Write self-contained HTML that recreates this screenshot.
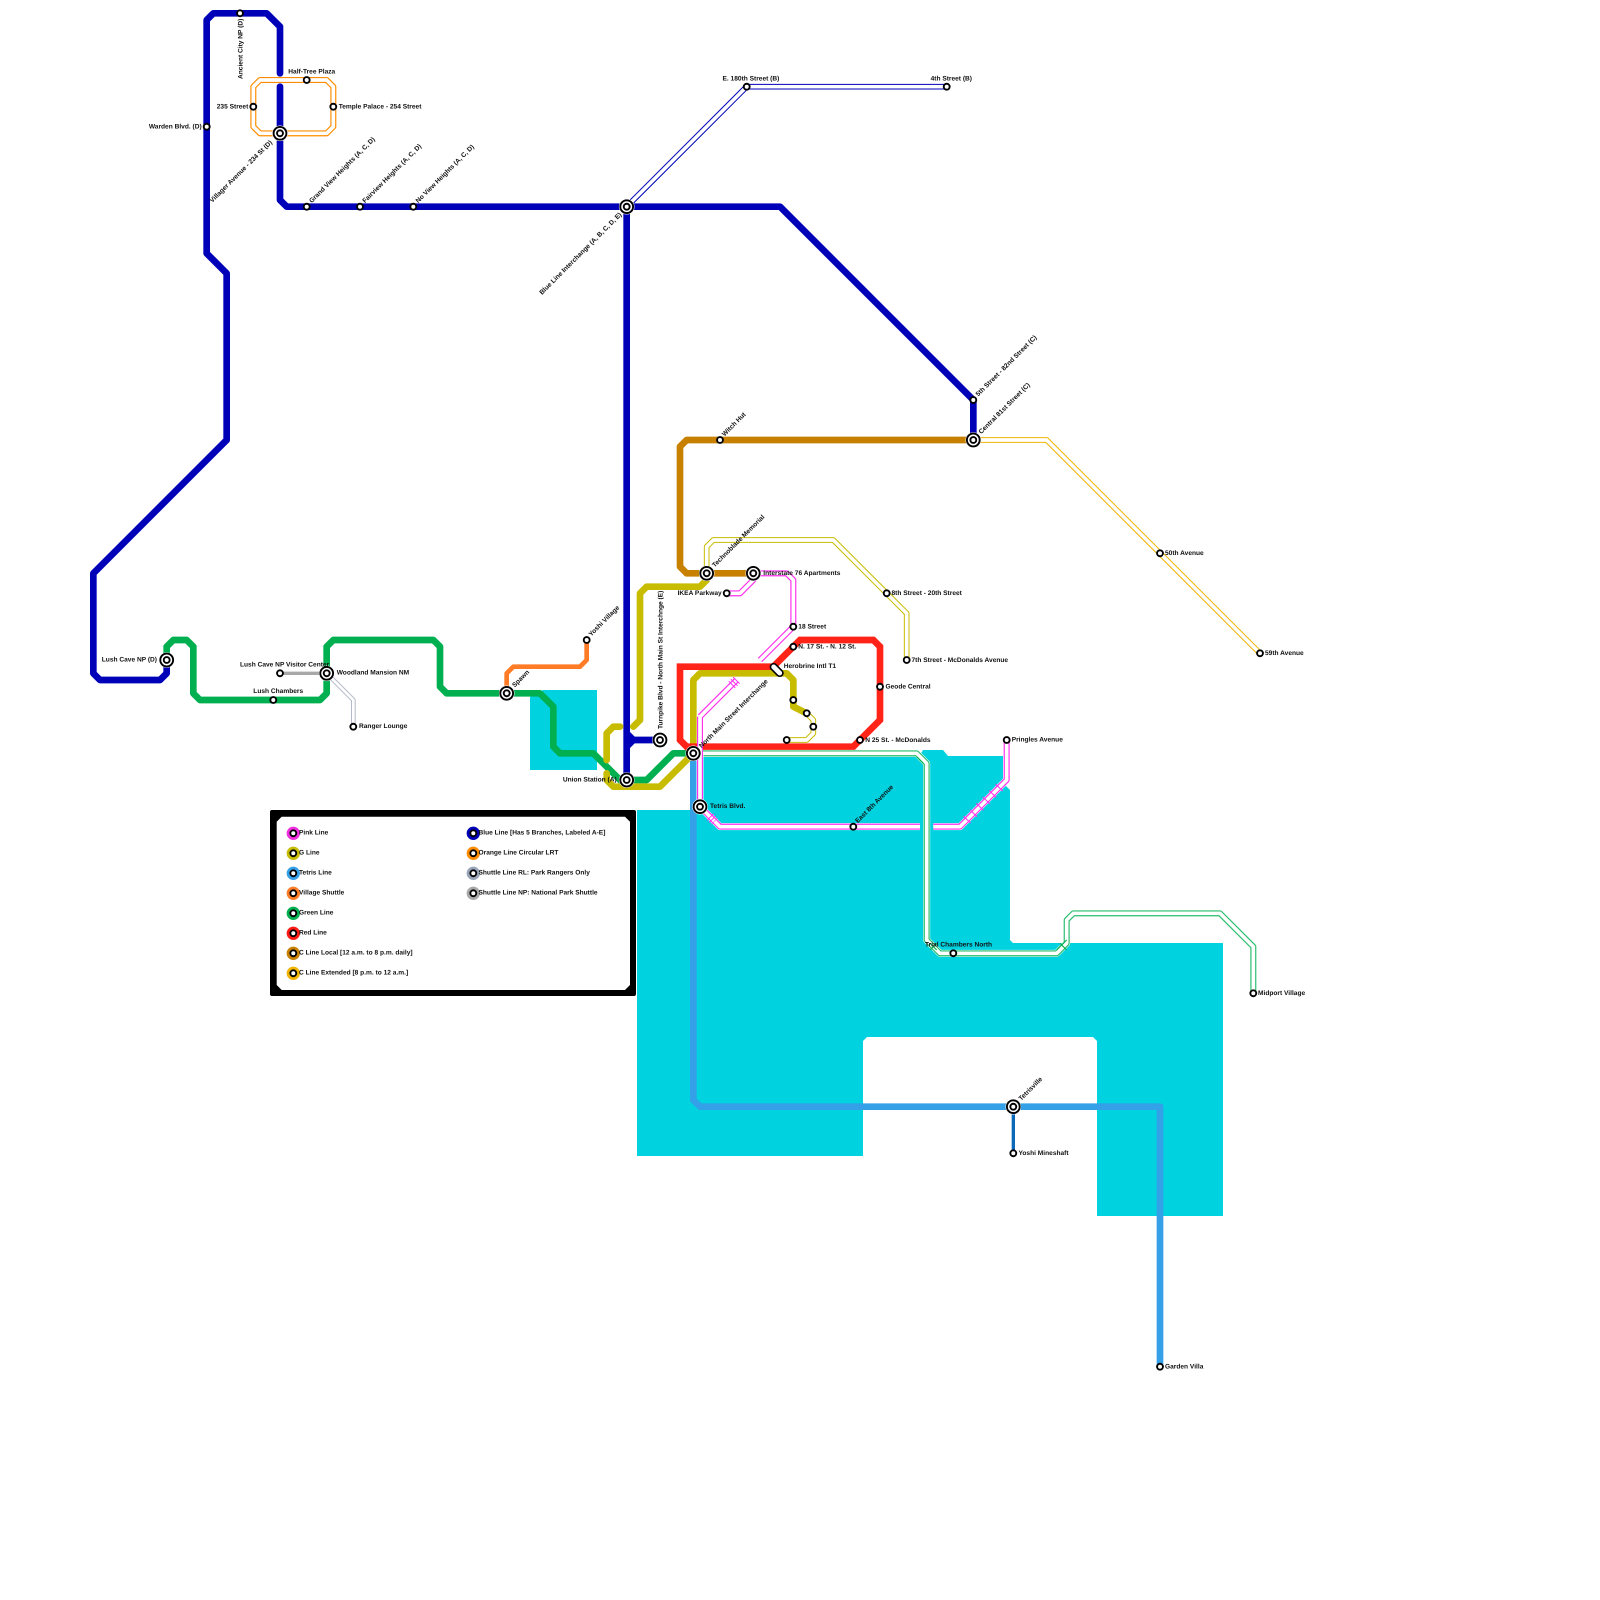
<!DOCTYPE html>
<html>
<head>
<meta charset="utf-8">
<title>Transit Map</title>
<style>
html,body{margin:0;padding:0;background:#fff}
svg{display:block}
text{font-family:"Liberation Sans",sans-serif;font-weight:bold;font-size:6.6px;fill:#111;text-rendering:geometricPrecision}
.l{fill:none;stroke-linejoin:round;stroke-linecap:butt}
</style>
</head>
<body>
<svg xmlns="http://www.w3.org/2000/svg" width="1600" height="1600" viewBox="0 0 1600 1600">
<defs>
<g id="s"><circle r="2.95" fill="#fff" stroke="#000" stroke-width="1.9"/></g>
<g id="h"><circle r="7.8" fill="#fff"/><circle r="6.4" fill="#fff" stroke="#000" stroke-width="1.9"/><circle r="2.95" fill="#fff" stroke="#000" stroke-width="1.9"/></g>
</defs>
<rect width="1600" height="1600" fill="#fff"/>

<!-- water -->
<polygon fill="#00d2e0" points="543,690 597,690 597,770 530,770 530,697"/>
<polygon fill="#00d2e0" points="637,810 696,810 696,765 703,757 920,755 923,750 943,750 948,756 1003,756 1003,783 1010,790 1010,940 1013,943 1223,943 1223,1216 1097,1216 1097,1041 1093,1037 867,1037 863,1041 863,1156 637,1156"/>

<!-- legend -->
<rect x="270" y="810" width="366" height="186" rx="2" fill="#000"/>
<polygon fill="#fff" points="281.7,816.7 625,816.7 630,821.7 630,985 625,990 281.7,990 276.7,985 276.7,821.7"/>
<g>
<circle cx="293.3" cy="833.3" r="6.67" fill="#f030e0"/><circle cx="293.3" cy="853.3" r="6.67" fill="#c8bc00"/><circle cx="293.3" cy="873.3" r="6.67" fill="#34a0e8"/><circle cx="293.3" cy="893.3" r="6.67" fill="#ff7b25"/><circle cx="293.3" cy="913.3" r="6.67" fill="#00b050"/><circle cx="293.3" cy="933.3" r="6.67" fill="#ff1a14"/><circle cx="293.3" cy="953.3" r="6.67" fill="#c88000"/><circle cx="293.3" cy="973.3" r="6.67" fill="#f0b400"/>
<circle cx="473.3" cy="833.3" r="6.67" fill="#0000b8"/><circle cx="473.3" cy="853.3" r="6.67" fill="#ff8c00"/><circle cx="473.3" cy="873.3" r="6.67" fill="#98a4b8"/><circle cx="473.3" cy="893.3" r="6.67" fill="#a8a8a8"/>
<use href="#s" x="293.3" y="833.3"/><use href="#s" x="293.3" y="853.3"/><use href="#s" x="293.3" y="873.3"/><use href="#s" x="293.3" y="893.3"/><use href="#s" x="293.3" y="913.3"/><use href="#s" x="293.3" y="933.3"/><use href="#s" x="293.3" y="953.3"/><use href="#s" x="293.3" y="973.3"/>
<use href="#s" x="473.3" y="833.3"/><use href="#s" x="473.3" y="853.3"/><use href="#s" x="473.3" y="873.3"/><use href="#s" x="473.3" y="893.3"/>
<text x="299" y="834.7">Pink Line</text>
<text x="299" y="854.7">G Line</text>
<text x="299" y="874.7">Tetris Line</text>
<text x="299" y="894.7">Village Shuttle</text>
<text x="299" y="914.7">Green Line</text>
<text x="299" y="934.7">Red Line</text>
<text x="299" y="954.7">C Line Local [12 a.m. to 8 p.m. daily]</text>
<text x="299" y="974.7">C Line Extended [8 p.m. to 12 a.m.]</text>
<text x="478.5" y="834.7">Blue Line [Has 5 Branches, Labeled A-E]</text>
<text x="478.5" y="854.7">Orange Line Circular LRT</text>
<text x="478.5" y="874.7">Shuttle Line RL: Park Rangers Only</text>
<text x="478.5" y="894.7">Shuttle Line NP: National Park Shuttle</text>
</g>

<!-- lines (grid units) -->
<g transform="scale(6.66667)">
<!-- thin gold -->
<path class="l" stroke="#f0b400" stroke-width=".85" d="M146 66H157L189 98"/>
<path class="l" stroke="#fff" stroke-width=".55" d="M146 66H157L189 98"/>
<!-- thin blue -->
<path class="l" stroke="#0000b8" stroke-width=".85" d="M94 31L112 13H142"/>
<path class="l" stroke="#fff" stroke-width=".55" d="M94 31L112 13H142"/>
<!-- thin G -->
<path class="l" stroke="#c8bc00" stroke-width=".85" d="M106 86V82L107 81H125L136 92V99"/>
<path class="l" stroke="#fff" stroke-width=".55" d="M106 86V82L107 81H125L136 92V99"/>
<path class="l" stroke="#c8bc00" stroke-width=".85" d="M121 107L122 108V110L121 111H118"/>
<path class="l" stroke="#fff" stroke-width=".55" d="M121 107L122 108V110L121 111H118"/>
<!-- orange circular -->
<path class="l" stroke="#ff8c00" stroke-width=".9" d="M39 12H49L50 13V19L49 20H39L38 19V13Z"/>
<path class="l" stroke="#fff" stroke-width=".55" d="M39 12H49L50 13V19L49 20H39L38 19V13Z"/>
<!-- shuttles -->
<path class="l" stroke="#a8a8a8" stroke-width=".5" d="M42 101H49"/>
<path class="l" stroke="#b4bac8" stroke-width=".7" d="M49 101L53 105V109"/>
<path class="l" stroke="#fff" stroke-width=".4" d="M49 101L53 105V109"/>
<!-- village shuttle -->
<path class="l" stroke="#ff7b25" stroke-width=".7" d="M76 104V101L77 100H87L88 99V96"/>
<!-- tetris -->
<path class="l" stroke="#34a0e8" stroke-width="1" d="M104 113V165L105 166H174V205"/>
<path class="l" stroke="#0c68b8" stroke-width=".5" d="M152 166V173"/>
<!-- main blue -->
<path class="l" stroke="#0000b8" stroke-width="1" d="M25 99V101L24 102H15L14 101V86L34 66V41L31 38V3L32 2H40L42 4V11" style="stroke-linecap:round"/>
<path class="l" stroke="#0000b8" stroke-width="1" d="M42 13V30L43 31H117L146 60V66" style="stroke-linecap:round"/>
<path class="l" stroke="#0000b8" stroke-width="1" d="M94 31V117"/>
<path class="l" stroke="#0000b8" stroke-width="1" d="M94 110L95 111L94 112M95 111H99"/>
<!-- green -->
<path class="l" stroke="#00b050" stroke-width="1" d="M25 99V97L26 96H28L29 97V104L30 105H48L49 104V97L50 96H65L66 97V103L67 104H81L83 106V112L84 113H89L94 118L94 117H97L101 113H104"/>
<!-- brown -->
<path class="l" stroke="#c88000" stroke-width="1" d="M146 66H103L102 67V85L103 86H113"/>
<!-- G line thick -->
<path class="l" stroke="#c8bc00" stroke-width="1" d="M106 86V87L105 88H97L96 89V108L95 109" style="stroke-linecap:round"/>
<path class="l" stroke="#c8bc00" stroke-width="1" d="M93 109H92L91 110V114" style="stroke-linecap:round"/>
<path class="l" stroke="#c8bc00" stroke-width="1" d="M91 116V117L92 118H99L104 113" style="stroke-linecap:round"/>
<path class="l" stroke="#c8bc00" stroke-width="1" d="M104 113V102L105 101H118L119 102V106L121 107"/>
<!-- red -->
<path class="l" stroke="#ff2318" stroke-width="1" d="M104 113L103 112H128L132 108V97L131 96H120L116 100H102V111L103 112" style="stroke-linejoin:miter"/>
<!-- thin green -->
<path class="l" stroke="#fff" stroke-width="1.05" d="M104 113H137.5L139 114.5V141L141 143H158.5L160 141.5V138L161 137H183L188 142V149"/>
<path class="l" stroke="#00b050" stroke-width=".9" d="M104 113H137.5L139 114.5V141L141 143H158.5L160 141.5V138L161 137H183L188 142V149" opacity=".85"/>
<path class="l" stroke="#fff" stroke-width=".55" d="M104 113H137.5L139 114.5V141L141 143H158.5L160 141.5V138L161 137H183L188 142V149"/>
<path class="l" stroke="#00b050" stroke-width=".18" d="M139.5 141.5L140.5 142.5M140.5 141.5L139.5 142.5M159 141.5L160 142.5M160 141L158.5 142.5M137.5 113.5L138.5 114.5"/>
<!-- pink -->
<path class="l" stroke="#fff" stroke-width="1.05" d="M105 113V121L108 124H138M140 124H144L151 117V111"/>
<path class="l" stroke="#ff30f0" stroke-width=".9" d="M105 107.5L110.5 102M105 107.5V121L108 124H138M140 124H144L151 117V111"/>
<path class="l" stroke="#fff" stroke-width=".55" d="M105 107.5L110.5 102M105 107.5V121L108 124H138M140 124H144L151 117V111"/>
<path class="l" stroke="#ff30f0" stroke-width=".9" d="M113 86H118L119 87V94L114 99M113 86V87L111 89H109"/>
<path class="l" stroke="#fff" stroke-width=".55" d="M113 86H118L119 87V94L114 99M113 86V87L111 89H109"/>
<path class="l" stroke="#ff30f0" stroke-width="1.5" stroke-dasharray=".16 1.2" d="M145 123L150.5 117.5"/>
<path class="l" stroke="#ff30f0" stroke-width="1.4" stroke-dasharray=".15 .3" d="M106.5 122.5L107.2 123.2"/>
<path class="l" stroke="#ff30f0" stroke-width="1.4" stroke-dasharray=".15 .3" d="M110.5 102L109.7 102.8"/>
</g>

<!-- Herobrine capsule -->
<rect x="-7.5" y="-3.2" width="15" height="6.4" rx="3.2" fill="#fff" stroke="#000" stroke-width="1.6" transform="translate(776.7,670) rotate(45)"/>

<!-- stations -->
<use href="#h" x="166.7" y="660"/>
<use href="#h" x="280" y="133.3"/>
<use href="#h" x="626.7" y="206.7"/>
<use href="#h" x="973.3" y="440"/>
<use href="#h" x="706.7" y="573.3"/>
<use href="#h" x="753.3" y="573.3"/>
<use href="#h" x="660" y="740"/>
<use href="#h" x="626.7" y="780"/>
<use href="#h" x="693.3" y="753.3"/>
<use href="#h" x="700" y="806.7"/>
<use href="#h" x="506.7" y="693.3"/>
<use href="#h" x="326.7" y="673.3"/>
<use href="#h" x="1013.3" y="1106.7"/>
<use href="#s" x="240" y="13.3"/>
<use href="#s" x="306.7" y="80"/>
<use href="#s" x="253.3" y="106.7"/>
<use href="#s" x="333.3" y="106.7"/>
<use href="#s" x="206.7" y="126.7"/>
<use href="#s" x="306.7" y="206.7"/>
<use href="#s" x="360" y="206.7"/>
<use href="#s" x="413.3" y="206.7"/>
<use href="#s" x="746.7" y="86.7"/>
<use href="#s" x="946.7" y="86.7"/>
<use href="#s" x="973.3" y="400"/>
<use href="#s" x="720" y="440"/>
<use href="#s" x="1160" y="553.3"/>
<use href="#s" x="1260" y="653.3"/>
<use href="#s" x="886.7" y="593.3"/>
<use href="#s" x="906.7" y="660"/>
<use href="#s" x="726.7" y="593.3"/>
<use href="#s" x="793.3" y="626.7"/>
<use href="#s" x="793.3" y="646.7"/>
<use href="#s" x="880" y="686.7"/>
<use href="#s" x="860" y="740"/>
<use href="#s" x="793.3" y="700"/>
<use href="#s" x="806.7" y="713.3"/>
<use href="#s" x="813.3" y="726.7"/>
<use href="#s" x="786.7" y="740"/>
<use href="#s" x="586.7" y="640"/>
<use href="#s" x="280" y="673.3"/>
<use href="#s" x="273.3" y="700"/>
<use href="#s" x="353.3" y="726.7"/>
<use href="#s" x="853.3" y="826.7"/>
<use href="#s" x="1006.7" y="740"/>
<use href="#s" x="953.3" y="953.3"/>
<use href="#s" x="1253.3" y="993.3"/>
<use href="#s" x="1013.3" y="1153.3"/>
<use href="#s" x="1160" y="1366.7"/>

<!-- labels -->
<text transform="translate(242.3,79) rotate(-90)">Ancient City NP (D)</text>
<text x="288.3" y="73.5">Half-Tree Plaza</text>
<text x="248.3" y="108.3" text-anchor="end">235 Street</text>
<text x="338.7" y="108.3">Temple Palace - 254 Street</text>
<text x="201.7" y="128.3" text-anchor="end">Warden Blvd. (D)</text>
<text transform="translate(212.3,203) rotate(-45)">Villager Avenue - 234 St (D)</text>
<text transform="translate(311.7,203.3) rotate(-45)">Grand View Heights (A, C, D)</text>
<text transform="translate(365,203.3) rotate(-45)">Fairview Heights (A, C, D)</text>
<text transform="translate(418.3,203.3) rotate(-45)">No View Heights (A, C, D)</text>
<text transform="translate(622,215) rotate(-45)" text-anchor="end">Blue Line Interchange (A, B, C, D, E)</text>
<text x="722.5" y="80.5">E. 180th Street (B)</text>
<text x="930.6" y="80.5">4th Street (B)</text>
<text transform="translate(978.3,396.6) rotate(-45)">5th Street - 82nd Street (C)</text>
<text transform="translate(981.3,434.3) rotate(-45)">Central 81st Street (C)</text>
<text transform="translate(724.5,436.6) rotate(-45)">Witch Hut</text>
<text x="1165" y="555.2">50th Avenue</text>
<text x="1265" y="655.2">59th Avenue</text>
<text transform="translate(714.7,567.6) rotate(-45)">Technoblade Memorial</text>
<text x="763.3" y="575">Interstate 76 Apartments</text>
<text x="721.7" y="595" text-anchor="end">IKEA Parkway</text>
<text x="891.5" y="595.2">8th Street - 20th Street</text>
<text x="911.5" y="662">7th Street - McDonalds Avenue</text>
<text x="798.3" y="628.3">18 Street</text>
<text x="798.3" y="648.3">N. 17 St. - N. 12 St.</text>
<text x="783.7" y="668">Herobrine Intl T1</text>
<text x="885.5" y="688.6">Geode Central</text>
<text x="865.3" y="741.8">N 25 St. - McDonalds</text>
<text x="1011.7" y="741.5">Pringles Avenue</text>
<text transform="translate(591.2,636.6) rotate(-45)">Yoshi Village</text>
<text transform="translate(514.7,687.6) rotate(-45)">Spawn</text>
<text transform="translate(662.5,729) rotate(-90)">Turnpike Blvd - North Main St Interchnge (E)</text>
<text transform="translate(701.6,748.3) rotate(-45)">North Main Street Interchange</text>
<text x="616.7" y="781.5" text-anchor="end">Union Station (A)</text>
<text x="710" y="808">Tetris Blvd.</text>
<text transform="translate(857.8,823.3) rotate(-45)">East 8th Avenue</text>
<text x="925" y="946.5">Trial Chambers North</text>
<text x="1258" y="995.2">Midport Village</text>
<text transform="translate(1021.3,1101) rotate(-45)">Tetrisville</text>
<text x="1018.5" y="1155.2">Yoshi Mineshaft</text>
<text x="1165" y="1368.7">Garden Villa</text>
<text x="157" y="661.3" text-anchor="end">Lush Cave NP (D)</text>
<text x="240" y="666.5">Lush Cave NP Visitor Center</text>
<text x="336.7" y="674.7">Woodland Mansion NM</text>
<text x="253.3" y="693">Lush Chambers</text>
<text x="359" y="728">Ranger Lounge</text>
</svg>
</body>
</html>
